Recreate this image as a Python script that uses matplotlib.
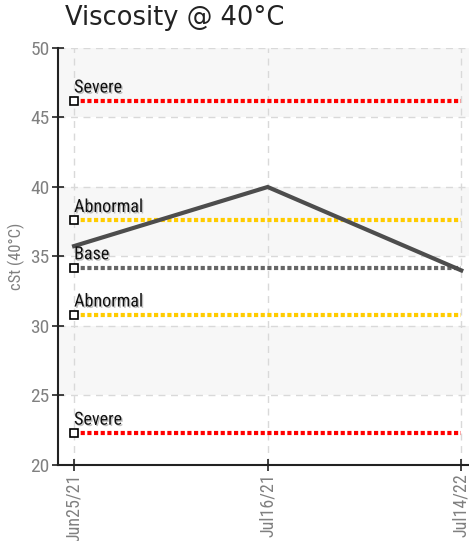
import matplotlib.pyplot as plt
import matplotlib.patheffects as pe
from matplotlib import font_manager

# Sample results
dates = ['Jun25/21', 'Jul16/21', 'Jul14/22']
viscosity = [35.75, 40.0, 34.0]

# Alarm limits
limit_names = ['Severe', 'Abnormal', 'Base', 'Abnormal', 'Severe']
limit_values = [46.2, 37.6, 34.2, 30.8, 22.3]
limit_colors = ['#ff0000', '#ffcc00', '#666666', '#ffcc00', '#ff0000']

y_ticks = [20, 25, 30, 35, 40, 45, 50]

# prefer a condensed face for the small labels if one is around
installed = {f.name for f in font_manager.fontManager.ttflist}
narrow = 'Liberation Sans'
for cand in ('Liberation Sans Narrow', 'Roboto Condensed', 'Open Sans Condensed'):
    if cand in installed:
        narrow = cand
        break
condensed = narrow != 'Liberation Sans'

fig = plt.figure(figsize=(4.69, 5.41), dpi=100)
ax = fig.add_axes([0.1237, 0.1405, 0.8763, 0.7708])

x = list(range(len(dates)))

# alternating background bands
for lo in (25, 35, 45):
    ax.axhspan(lo, lo + 5, color='#f7f7f7', zorder=0, lw=0)

ax.grid(True, color='#d9d9d9', linestyle=(0, (5, 4)), linewidth=1)
ax.set_axisbelow(True)

for name, val, col in zip(limit_names, limit_values, limit_colors):
    ax.plot([x[0], x[-1]], [val, val], color=col, lw=3,
            linestyle=(0, (1, 0.6)), zorder=2, dash_capstyle='butt')
    ax.plot(x[0], val, marker='s', ms=6, mfc='white', mec='black',
            mew=1.2, zorder=4, clip_on=False)
    ax.text(x[0], val + 0.6, name, fontsize=13 if condensed else 11.5,
            family=narrow, color='#111111', zorder=5,
            path_effects=[pe.withSimplePatchShadow(offset=(1, -1),
                                                   shadow_rgbFace='#999999',
                                                   alpha=0.6)])

ax.plot(x, viscosity, color='#4d4d4d', lw=3, zorder=3,
        solid_joinstyle='miter')

ax.set_xlim(-0.083, 2.04)
ax.set_ylim(20, 50)
ax.set_yticks(y_ticks)
ax.set_xticks(x)
ax.set_xticklabels(dates, rotation=90, family=narrow,
                   fontsize=13 if condensed else 11, color='#808080')
ax.set_yticklabels([str(v) for v in y_ticks], family=narrow,
                   fontsize=14 if condensed else 12.5, color='#808080')
ax.tick_params(direction='inout', length=8, width=1.2, color='#222222',
               pad=2)

for side in ('top', 'right'):
    ax.spines[side].set_visible(False)
for side in ('left', 'bottom'):
    ax.spines[side].set_color('#222222')
    ax.spines[side].set_linewidth(1.5)

ax.set_ylabel('cSt (40°C)', family=narrow, fontsize=12 if condensed else 10,
              color='#808080', labelpad=4)

fig.text(0.139, 0.966, 'Viscosity @ 40°C', fontsize=18.5, color='#222222',
         va='center', ha='left')

fig.savefig('out.png', dpi=100)
